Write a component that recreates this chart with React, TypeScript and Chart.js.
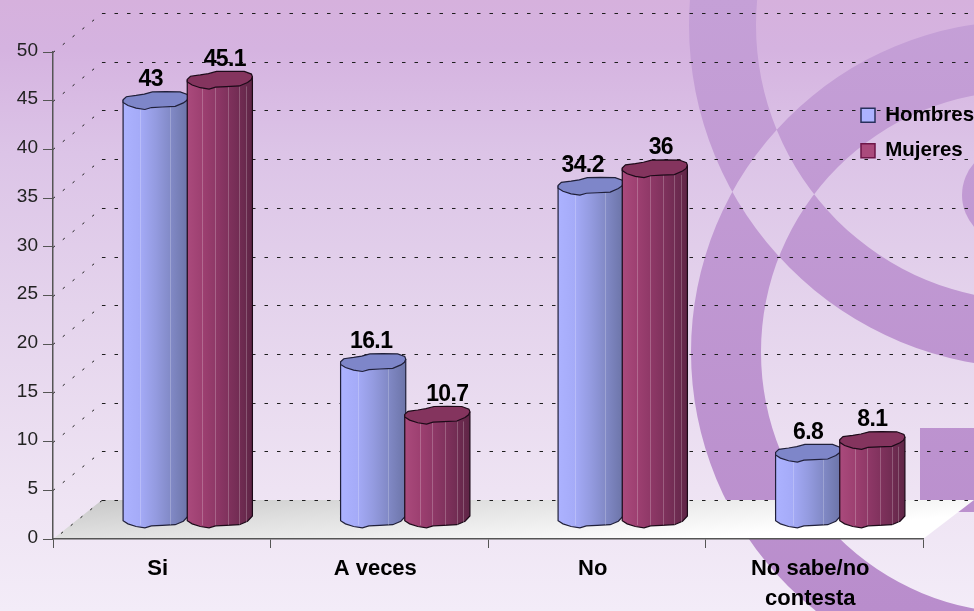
import React, { useEffect, useRef } from "react";
import { Chart, registerables } from "chart.js";

Chart.register(...registerables);

const categories = ["Si", "A veces", "No", ["No sabe/no", "contesta"]];
const hombres = [43, 16.1, 34.2, 6.8];
const mujeres = [45.1, 10.7, 36, 8.1];
const yMax = 50;
const yStep = 5;

// Per-point nudges of the value labels, in pixels (style, not data)
const labelNudge = [
  [-5, -2, -8, 0],
  [5, 10, 6, 0],
];

const DEPTH_X = 49;
const DEPTH_Y = 39;
const FONT = '"Liberation Sans", Arial, sans-serif';

// Irregular cap outline, normalised to -1..1
const capShape = [
  [-1, -0.1], [-0.9, -0.45], [-0.6, -0.6], [-0.35, -0.75], [-0.1, -1], [0.3, -1.02], [0.75, -1],
  [0.97, -0.7], [1, -0.4], [0.96, -0.05], [0.85, 0.25], [0.6, 0.65], [0.2, 0.72], [-0.13, 0.78],
  [-0.33, 1], [-0.6, 0.85], [-0.85, 0.55], [-1, 0.2],
];
const bottomShape = capShape.filter((p) => p[1] > 0.1).reverse();

const skins = [
  {
    stops: ["#acb2ff", "#a5abf8", "#949be0", "#8088c4", "#6c74a8"],
    cap: "#7e86c9",
    stroke: "#20203a",
    stripes: [0.26, 0.72],
  },
  {
    stops: ["#aa4a7c", "#9c3f70", "#8a3664", "#762e56", "#5f2546"],
    cap: "#84345e",
    stroke: "#1c0a18",
    stripes: [0.23, 0.42, 0.62, 0.8, 0.9],
  },
];

const ring = (ctx: CanvasRenderingContext2D, x: number, y: number, r: number) => {
  ctx.moveTo(x + r, y);
  ctx.arc(x, y, r, 0, Math.PI * 2);
};

const backdropPlugin = {
  id: "scenery",
  beforeDraw(chart: any) {
    const { ctx, width, height, chartArea, scales } = chart;
    ctx.save();
    const bg = ctx.createLinearGradient(0, 0, 0, height);
    bg.addColorStop(0, "#d6b1dd");
    bg.addColorStop(0.08, "#d5b3e0");
    bg.addColorStop(0.25, "#dcc4e7");
    bg.addColorStop(0.5, "#e4d3ec");
    bg.addColorStop(0.8, "#eee3f3");
    bg.addColorStop(1, "#f3ecf8");
    ctx.fillStyle = bg;
    ctx.fillRect(0, 0, width, height);

    const tone = ctx.createLinearGradient(0, 0, 0, height);
    tone.addColorStop(0, "#c5a0d7");
    tone.addColorStop(1, "#b98dcc");
    ctx.fillStyle = tone;
    ctx.beginPath();
    ring(ctx, 1022, 352, 331);
    ring(ctx, 1022, 352, 261);
    ring(ctx, 1032, 25, 343);
    ring(ctx, 1032, 25, 276);
    ctx.fill("evenodd");
    ctx.beginPath();
    ctx.arc(1010, 195, 48, 0, Math.PI * 2);
    ctx.fill();
    ctx.fillRect(920, 428, 54, 84);

    // Floor of the 3-D box
    const { left, right, bottom } = chartArea;
    const floor = ctx.createLinearGradient(100, bottom - DEPTH_Y - 2, 108, bottom + 51);
    floor.addColorStop(0, "#c8c8c8");
    floor.addColorStop(0.4, "#e0e0e0");
    floor.addColorStop(0.75, "#f2f2f2");
    floor.addColorStop(1, "#ffffff");
    ctx.fillStyle = floor;
    ctx.beginPath();
    ctx.moveTo(left, bottom);
    ctx.lineTo(left + DEPTH_X, bottom - DEPTH_Y);
    ctx.lineTo(right + DEPTH_X + 2, bottom - DEPTH_Y);
    ctx.lineTo(right, bottom);
    ctx.closePath();
    ctx.fill();

    // Dashed grid: side wall and back wall
    ctx.strokeStyle = "#1e1e1e";
    ctx.lineWidth = 1;
    for (let v = 0; v <= yMax; v += yStep) {
      const y = Math.round(scales.y.getPixelForValue(v)) + 0.5;
      ctx.setLineDash([2.5, 10]);
      ctx.beginPath();
      if (v > 0) {
        ctx.moveTo(left, y);
        ctx.lineTo(left + DEPTH_X, y - DEPTH_Y);
      } else {
        ctx.moveTo(left + 8, y - 6);
        ctx.lineTo(left + DEPTH_X, y - DEPTH_Y);
      }
      ctx.stroke();
      ctx.setLineDash([3.5, 9]);
      ctx.beginPath();
      ctx.moveTo(left + DEPTH_X, y - DEPTH_Y);
      ctx.lineTo(width, y - DEPTH_Y);
      ctx.stroke();
    }
    ctx.restore();
  },
};

const drawCylinder = (ctx: CanvasRenderingContext2D, el: any, skin: any) => {
  const cx = el.x + DEPTH_X / 2 + 1.5;
  const hw = el.width / 2 + 0.5;
  const hh = 8.8;
  const top = el.y - DEPTH_Y / 2;
  const base = el.base - DEPTH_Y / 2;
  const L = cx - hw;

  const grad = ctx.createLinearGradient(L, 0, cx + hw, 0);
  skin.stops.forEach((c: string, i: number) => grad.addColorStop(i / (skin.stops.length - 1), c));
  ctx.fillStyle = grad;
  ctx.strokeStyle = skin.stroke;
  ctx.lineWidth = 1.2;
  ctx.beginPath();
  ctx.moveTo(L, top);
  ctx.lineTo(L, base);
  bottomShape.forEach(([px, py]) => ctx.lineTo(cx + px * hw, base + py * hh));
  ctx.lineTo(cx + hw, base - 3);
  ctx.lineTo(cx + hw, top - 3);
  ctx.closePath();
  ctx.fill();
  ctx.stroke();

  ctx.strokeStyle = "rgba(255,255,255,0.22)";
  ctx.lineWidth = 1;
  skin.stripes.forEach((f: number) => {
    const x = Math.round(L + f * 2 * hw) + 0.5;
    ctx.beginPath();
    ctx.moveTo(x, top + hh * 0.7);
    ctx.lineTo(x, base + hh * 0.7);
    ctx.stroke();
  });

  ctx.fillStyle = skin.cap;
  ctx.strokeStyle = skin.stroke;
  ctx.lineWidth = 1.2;
  ctx.beginPath();
  capShape.forEach(([px, py], i) => {
    const x = cx + px * hw;
    const y = top + py * hh;
    if (i === 0) ctx.moveTo(x, y);
    else ctx.lineTo(x, y);
  });
  ctx.closePath();
  ctx.fill();
  ctx.stroke();
};

const cylinderPlugin = {
  id: "cylinders",
  beforeLayout(chart: any) {
    // Keep the legend out of the layout so that it can overlap the plot's right side
    const lg = chart.legend;
    if (lg && !lg.__patched) {
      const fit = lg.fit.bind(lg);
      lg.fit = () => {
        fit();
        lg.width = 0;
      };
      lg.__patched = true;
    }
  },
  afterLayout(chart: any) {
    const lg = chart.legend;
    if (lg) {
      lg.left = 846;
      lg.right = 974;
      lg.top = 90;
      lg.bottom = 600;
    }
  },
  beforeDatasetDraw() {
    return false;
  },
  afterDatasetsDraw(chart: any) {
    const { ctx } = chart;
    ctx.save();
    chart.data.datasets.forEach((_: any, d: number) => {
      const meta = chart.getDatasetMeta(d);
      meta.data.forEach((el: any) => drawCylinder(ctx, el, skins[d]));
    });
    ctx.fillStyle = "#000";
    ctx.font = `bold 23px ${FONT}`;
    ctx.textAlign = "center";
    ctx.textBaseline = "middle";
    (ctx as any).letterSpacing = "-0.6px";
    chart.data.datasets.forEach((ds: any, d: number) => {
      const meta = chart.getDatasetMeta(d);
      meta.data.forEach((el: any, i: number) => {
        const x = el.x + DEPTH_X / 2 + 1.5 + labelNudge[d][i];
        const y = el.y - DEPTH_Y / 2 - 21;
        ctx.fillText(String(ds.data[i]), x, y);
      });
    });
    ctx.restore();
  },
};

export default function App() {
  const ref = useRef<HTMLCanvasElement>(null);
  useEffect(() => {
    const chart = new Chart(ref.current as HTMLCanvasElement, {
      type: "bar",
      data: {
        labels: categories as any,
        datasets: [
          { label: "Hombres", data: hombres, backgroundColor: "#acb2ff", borderColor: "#28305c", borderWidth: 1.5 },
          { label: "Mujeres", data: mujeres, backgroundColor: "#aa4a7c", borderColor: "#6e1648", borderWidth: 1.5 },
        ],
      },
      options: {
        animation: false,
        responsive: false,
        events: [],
        layout: { padding: { top: 52, right: 51, left: 0, bottom: 0 } },
        datasets: { bar: { categoryPercentage: 0.59, barPercentage: 1 } },
        scales: {
          x: {
            afterFit(scale: any) {
              scale.height = 72;
            },
            border: { color: "#555", width: 1.5 },
            grid: { drawOnChartArea: false, drawTicks: true, tickLength: 9, color: "#555", offset: true },
            ticks: {
              color: "#000",
              padding: 6,
              maxRotation: 0,
              autoSkip: false,
              labelOffset: -4,
              font: { family: FONT, size: 22, weight: "bold", lineHeight: 1.36 },
            },
          },
          y: {
            min: 0,
            max: yMax,
            afterFit(scale: any) {
              scale.width = 53;
            },
            border: { color: "#555", width: 1.5 },
            grid: { drawOnChartArea: false, drawTicks: true, tickLength: 10, color: "#555" },
            ticks: {
              stepSize: yStep,
              color: "#222",
              padding: 5,
              labelOffset: -1.5,
              font: { family: FONT, size: 19 },
            },
          },
        },
        plugins: {
          tooltip: { enabled: false },
          title: { display: false },
          legend: {
            display: true,
            position: "right",
            align: "start",
            fullSize: false,
            labels: {
              color: "#000",
              boxWidth: 14,
              boxHeight: 14,
              padding: 15,
              font: { family: FONT, size: 20.5, weight: "bold" },
            },
          },
        },
      },
      plugins: [backdropPlugin, cylinderPlugin],
    } as any);
    return () => chart.destroy();
  }, []);
  return (
    <canvas
      ref={ref}
      width={974}
      height={611}
      style={{ position: "fixed", left: 0, top: 0, display: "block", width: 974, height: 611 }}
    />
  );
}
